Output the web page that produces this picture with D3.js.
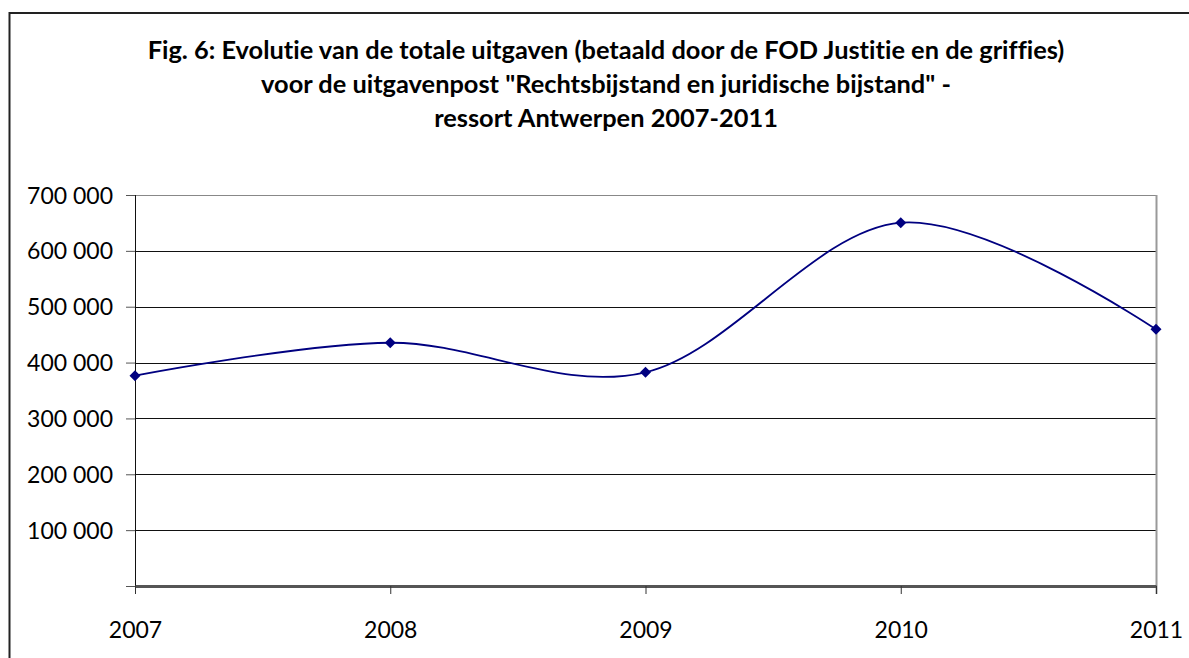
<!DOCTYPE html>
<html>
<head>
<meta charset="utf-8">
<script src="https://cdn.jsdelivr.net/npm/d3@7"></script>
<style>
  body { margin: 0; background: #fff; }
  text { font-family: Lato, "Open Sans", sans-serif; fill: #000; font-variant-ligatures: none; font-feature-settings: "liga" 0, "clig" 0; }
</style>
</head>
<body>
<svg width="1189" height="658"></svg>
<script>
var years = [2007, 2008, 2009, 2010, 2011];
var uitgaven = [376500, 435500, 382600, 650400, 459500];
var yTicks = [100000, 200000, 300000, 400000, 500000, 600000, 700000];
var titleLines = [
  "Fig. 6: Evolutie van de totale uitgaven (betaald door de FOD Justitie en de griffies)",
  "voor de uitgavenpost \"Rechtsbijstand en juridische bijstand\" -",
  "ressort Antwerpen 2007-2011"
];

var svg = d3.select("svg"),
    margin = {top: 195, right: 33, bottom: 72, left: 135},
    width = +svg.attr("width") - margin.left - margin.right,
    height = +svg.attr("height") - margin.top - margin.bottom;

// outer chart border (right/bottom edges fall outside the picture)
svg.append("rect")
  .attr("x", 9.5).attr("y", 13)
  .attr("width", 1200).attr("height", 700)
  .attr("fill", "none").attr("stroke", "#222").attr("stroke-width", 2);

// title
var title = svg.append("g").attr("class", "title");
titleLines.forEach(function (t, i) {
  title.append("text")
    .attr("x", 606).attr("y", 59 + i * 34)
    .attr("text-anchor", "middle")
    .style("font-weight", "bold")
    .style("font-size", "20px")
    .text(t);
});
// fit first line to the reference width
var w0 = title.select("text").node().getComputedTextLength();
title.selectAll("text").style("font-size", (20 * 917 / w0) + "px");

var x = d3.scalePoint().domain(years).range([0, width]);
var y = d3.scaleLinear().domain([0, 700000]).range([height, 0]);

var g = svg.append("g").attr("transform", "translate(" + margin.left + "," + margin.top + ")");

// gridlines
g.append("g").selectAll("line")
  .data(yTicks)
  .enter().append("line")
  .attr("x1", 0).attr("x2", width)
  .attr("y1", function (d) { return Math.round(y(d)) + 0.5; })
  .attr("y2", function (d) { return Math.round(y(d)) + 0.5; })
  .attr("stroke", function (d) { return d === 700000 ? "#888" : "#111"; })
  .attr("stroke-width", 1);

// right border of plot
g.append("line")
  .attr("x1", width + 0.5).attr("x2", width + 0.5)
  .attr("y1", 0).attr("y2", height + 8)
  .attr("stroke", "#999").attr("stroke-width", 2);

var fmt = function (d) { return d3.format(",")(d).replace(/,/g, " "); };

var yAxis = g.append("g").attr("class", "axis axis--y")
  .call(d3.axisLeft(y).tickValues([0].concat(yTicks)).tickSize(9).tickPadding(13)
    .tickFormat(function (d) { return d === 0 ? "" : fmt(d); }));
yAxis.select(".domain").attr("stroke", "#111").attr("d", "M0.5,0V" + (height + 8));
yAxis.selectAll(".tick line").attr("stroke", "#555");
yAxis.selectAll("text").style("font-size", "23px").style("font-family", "Lato, sans-serif").attr("dy", "0.35em");

var xAxis = g.append("g").attr("class", "axis axis--x")
  .attr("transform", "translate(0," + height + ")")
  .call(d3.axisBottom(x).tickSize(8).tickPadding(28).tickSizeOuter(0));
xAxis.select(".domain").attr("stroke", "#555").attr("stroke-width", 3);
xAxis.selectAll(".tick line").attr("stroke", "#333");
xAxis.selectAll("text").style("font-size", "23px").style("font-family", "Lato, sans-serif");

var data = years.map(function (yr, i) { return {year: yr, value: uitgaven[i]}; });

var line = d3.line()
  .x(function (d) { return x(d.year); })
  .y(function (d) { return y(d.value); })
  .curve(d3.curveCatmullRom.alpha(0));

g.append("path").datum(data)
  .attr("fill", "none")
  .attr("stroke", "#000080")
  .attr("stroke-width", 1.8)
  .attr("d", line);

g.append("g").selectAll("path")
  .data(data)
  .enter().append("path")
  .attr("transform", function (d) { return "translate(" + x(d.year) + "," + y(d.value) + ")"; })
  .attr("d", "M0,-5.5L5.5,0L0,5.5L-5.5,0Z")
  .attr("fill", "#000080");
</script>
</body>
</html>
